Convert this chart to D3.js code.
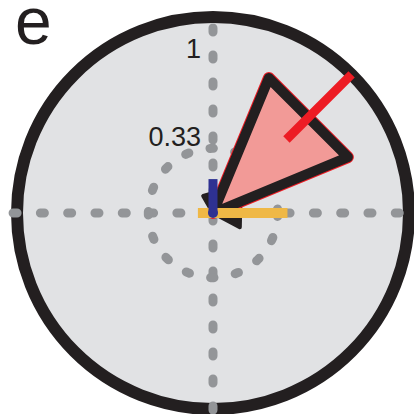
<!DOCTYPE html>
<html>
<head>
<meta charset="utf-8">
<script src="https://cdn.jsdelivr.net/npm/d3@7"></script>
<style>
  body { margin: 0; background: #fff; }
  svg { display: block; }
</style>
</head>
<body>
<svg width="414" height="414"></svg>
<script>
// polar data: angles in degrees clockwise from north, radii in units of the outer ring
var panelLetter = "e";
var ringValues = [0.33];
var tickValues = [0.33, 1];
var tickLabels = ["0.33", "1"];
var coneAngles = [22.5, 67.5];
var coneLength = 0.745;
var blackCone = [[330, 0.1], [45, 0.2], [118, 0.155]];
var redAngle = 45;
var redRange = [0.53, 1];
var yellowBar = [[270, 0.077], [90, 0.38]];
var navyBar = [[0, 0], [0, 0.173]];

var svg = d3.select("svg"),
    cx = 213, cy = 213;

var r = d3.scaleLinear().domain([0, 1]).range([0, 196]);

function pt(a, v) {
    var t = a * Math.PI / 180;
    return [cx + r(v) * Math.sin(t), cy - r(v) * Math.cos(t)];
}

var line = d3.line();

// outer ring
svg.append("circle")
    .attr("cx", cx).attr("cy", cy).attr("r", r(1))
    .style("fill", "#e1e2e4")
    .style("stroke", "#231f20")
    .style("stroke-width", 12);

// dotted axes
var grey = "#939598";
svg.append("path")
    .attr("d", line([pt(270, 1.02), pt(90, 1.03)]))
    .style("stroke", grey).style("stroke-width", 9)
    .style("stroke-linecap", "round")
    .style("stroke-dasharray", "4 23.3");
svg.append("path")
    .attr("d", line([pt(0, 0.944), pt(180, 1.03)]))
    .style("stroke", grey).style("stroke-width", 9)
    .style("stroke-linecap", "round")
    .style("stroke-dasharray", "4 23");

svg.selectAll(".ring")
    .data(ringValues)
    .enter().append("circle")
    .attr("class", "ring")
    .attr("cx", cx).attr("cy", cy)
    .attr("r", function(d) { return r(d); })
    .style("fill", "none")
    .style("stroke", grey).style("stroke-width", 9)
    .style("stroke-linecap", "round")
    .style("stroke-dasharray", "3.5 21.6");

// tick labels (placed by hand next to the vertical axis)
var labelRadius = [0.34, 0.79];
svg.selectAll(".tick")
    .data(tickValues)
    .enter().append("text")
    .attr("class", "tick")
    .attr("x", cx - 12)
    .attr("y", function(d, i) { return cy - r(labelRadius[i]); })
    .attr("text-anchor", "end")
    .style("font-family", "Liberation Sans, Arial, sans-serif")
    .style("font-size", "27px")
    .style("fill", "#231f20")
    .text(function(d, i) { return tickLabels[i]; });

// small black cone
svg.append("path")
    .attr("d", line([pt(0, 0)].concat(blackCone.map(function(d) { return pt(d[0], d[1]); }))) + "Z")
    .style("fill", "#231f20")
    .style("stroke", "#231f20")
    .style("stroke-width", 4)
    .style("stroke-linejoin", "round");

// pink cone
var conePts = [pt(0, 0), pt(coneAngles[0], coneLength), pt(coneAngles[1], coneLength)];
svg.append("path")
    .attr("d", line(conePts) + "Z")
    .style("fill", "none")
    .style("stroke", "#ed1c24")
    .style("stroke-width", 12)
    .style("stroke-linejoin", "round");
svg.append("path")
    .attr("d", line(conePts) + "Z")
    .style("fill", "#f29a97")
    .style("stroke", "#231f20")
    .style("stroke-width", 10)
    .style("stroke-linejoin", "round");

// red vector
svg.append("path")
    .attr("d", line([pt(redAngle, redRange[0]), pt(redAngle, redRange[1])]))
    .style("stroke", "#ed1c24")
    .style("stroke-width", 9);

// yellow bar
svg.append("path")
    .attr("d", line(yellowBar.map(function(d) { return pt(d[0], d[1]); })))
    .style("stroke", "#efb846")
    .style("stroke-width", 10);

// navy bar + dot
svg.append("path")
    .attr("d", line(navyBar.map(function(d) { return pt(d[0], d[1]); })))
    .style("stroke", "#2e3192")
    .style("stroke-width", 9);
svg.append("circle")
    .attr("cx", cx).attr("cy", cy).attr("r", 5)
    .style("fill", "#2e3192");

// panel letter
svg.append("text")
    .attr("x", 15).attr("y", 44)
    .style("font-family", "Liberation Sans, Arial, sans-serif")
    .style("font-size", "66px")
    .style("fill", "#231f20")
    .text(panelLetter);
</script>
</body>
</html>
